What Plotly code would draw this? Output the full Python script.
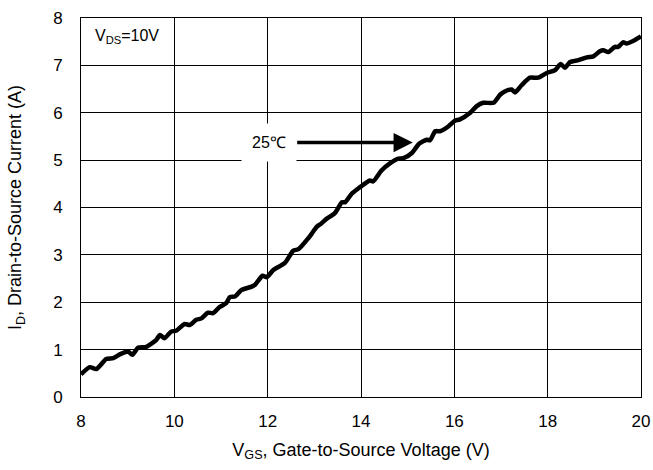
import plotly.graph_objects as go

vgs = [8.0, 8.19, 8.33, 8.54, 8.69, 8.83, 9.01, 9.10, 9.22, 9.40, 9.61, 9.69, 9.79, 9.93, 10.04,
       10.22, 10.33, 10.47, 10.58, 10.72, 10.83, 10.97, 11.11, 11.19, 11.30, 11.44, 11.66, 11.73,
       11.89, 11.98, 12.12, 12.37, 12.55, 12.66, 12.87, 13.06, 13.12, 13.26, 13.44, 13.59, 13.66,
       13.80, 13.98, 14.12, 14.19, 14.26, 14.44, 14.62, 14.80, 14.91, 15.09, 15.25, 15.41, 15.48,
       15.59, 15.69, 15.87, 16.01, 16.12, 16.34, 16.48, 16.62, 16.84, 16.98, 17.08, 17.23, 17.30,
       17.44, 17.62, 17.80, 17.98, 18.16, 18.28, 18.37, 18.48, 18.66, 18.84, 18.98, 19.12, 19.19,
       19.30, 19.44, 19.51, 19.62, 19.69, 19.84, 20.0]
id_a = [0.48, 0.63, 0.59, 0.80, 0.82, 0.90, 0.96, 0.89, 1.04, 1.06, 1.20, 1.31, 1.24, 1.38, 1.40,
        1.54, 1.52, 1.63, 1.66, 1.78, 1.77, 1.90, 1.98, 2.11, 2.12, 2.26, 2.33, 2.37,
        2.56, 2.53, 2.68, 2.83, 3.09, 3.12, 3.35, 3.60, 3.64, 3.76, 3.88, 4.11, 4.11,
        4.29, 4.43, 4.53, 4.57, 4.55, 4.78, 4.93, 5.03, 5.04, 5.15, 5.35, 5.43, 5.42,
        5.61, 5.61, 5.71, 5.83, 5.86, 6.00, 6.14, 6.21, 6.21, 6.38, 6.45, 6.49, 6.43,
        6.58, 6.74, 6.74, 6.84, 6.90, 7.03, 6.95, 7.07, 7.11, 7.17, 7.19, 7.30, 7.32,
        7.28, 7.39, 7.39, 7.49, 7.46, 7.52, 7.61]

x_ticks = [8, 10, 12, 14, 16, 18, 20]
y_ticks = [0, 1, 2, 3, 4, 5, 6, 7, 8]

FONT = "Arial"

fig = go.Figure()
fig.add_trace(go.Scatter(x=vgs, y=id_a, mode="lines",
                         line=dict(color="black", width=4.5, shape="spline", smoothing=0.6),
                         showlegend=False, hoverinfo="skip"))

axis_common = dict(showgrid=True, gridcolor="black", gridwidth=1,
                   showline=True, linecolor="black", linewidth=1, mirror=True,
                   zeroline=False, ticks="", automargin=False,
                   tickfont=dict(size=17, color="black", family=FONT))

fig.update_xaxes(range=[8, 20], tickvals=x_ticks, ticklabelstandoff=9,
                 title=dict(text="V<sub>GS</sub>, Gate-to-Source Voltage (V)",
                            font=dict(size=18, color="black", family=FONT), standoff=12),
                 **axis_common)
fig.update_yaxes(range=[0, 8], tickvals=y_ticks, ticklabelstandoff=14,
                 title=dict(text="I<sub>D</sub>, Drain-to-Source Current (A)",
                            font=dict(size=18, color="black", family=FONT), standoff=26),
                 **axis_common)

fig.add_annotation(x=8.25, y=7.62, xref="x", yref="y", text="V<sub>DS</sub>=10V",
                   showarrow=False, xanchor="left", yanchor="middle",
                   font=dict(size=16, color="black", family=FONT))

# arrow
fig.add_annotation(x=15.11, y=5.37, ax=12.6, ay=5.37, xref="x", yref="y", axref="x", ayref="y",
                   text="", showarrow=True, arrowhead=2, arrowsize=1.1, arrowwidth=3.5,
                   arrowcolor="black", standoff=0, startstandoff=0)
fig.add_annotation(x=12.02, y=5.37, xref="x", yref="y", text="25℃", showarrow=False,
                   bgcolor="white", borderpad=10, xanchor="center", yanchor="middle",
                   font=dict(size=16, color="black", family=FONT))

fig.update_layout(width=653, height=470, margin=dict(l=81, r=12, t=18, b=73),
                  plot_bgcolor="white", paper_bgcolor="white",
                  font=dict(family=FONT, color="black"))

fig.write_html("out.html", config={"displayModeBar": False},
               post_script="document.body.style.margin='0';document.body.style.overflow='hidden';")
